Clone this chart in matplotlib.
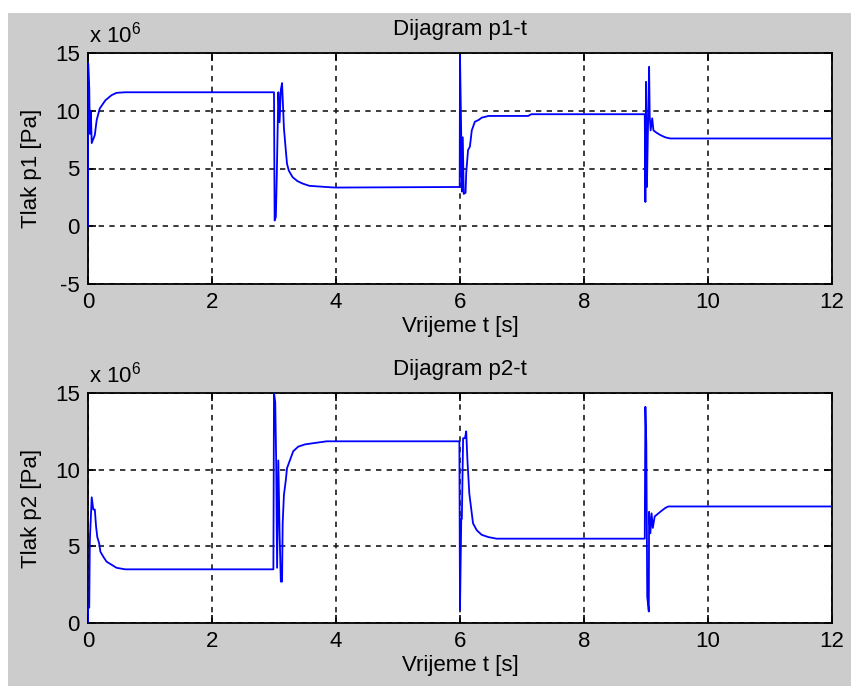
import matplotlib
matplotlib.use("Agg")
import matplotlib.pyplot as plt
from matplotlib.patches import Rectangle

plt.rcParams['font.family'] = ['Liberation Sans', 'DejaVu Sans']

# ---- data (time in s, pressure in 1e6 Pa) ----
t1 = [0.0, 0.003, 0.02, 0.03, 0.045, 0.06, 0.11, 0.14, 0.19, 0.28, 0.38, 0.46, 0.6, 3.0,
      3.01, 3.03, 3.045, 3.07, 3.09, 3.11, 3.13, 3.16, 3.19, 3.21, 3.24, 3.3, 3.38, 3.46, 3.57, 3.92, 4.0, 5.995,
      6.0, 6.02, 6.03, 6.045, 6.06, 6.09, 6.1, 6.13, 6.16, 6.19, 6.21, 6.24, 6.3, 6.35, 6.46, 7.1, 7.15, 8.98,
      8.99, 9.0, 9.015, 9.03, 9.05, 9.06, 9.075, 9.1, 9.12, 9.17, 9.23, 9.31, 9.39, 12.0]
p1 = [0.0, 14.1, 12.0, 8.0, 10.0, 7.2, 7.9, 9.2, 10.2, 10.9, 11.35, 11.55, 11.6, 11.6,
      0.5, 0.8, 4.4, 11.6, 9.0, 11.8, 12.4, 8.5, 6.6, 5.4, 4.8, 4.25, 3.9, 3.7, 3.5, 3.37, 3.35, 3.4,
      14.8, 7.75, 3.0, 7.7, 2.8, 2.9, 4.6, 6.6, 6.9, 8.3, 8.6, 9.05, 9.2, 9.4, 9.55, 9.55, 9.7, 9.7,
      2.1, 12.5, 3.4, 8.0, 13.8, 9.5, 8.3, 9.35, 8.3, 8.1, 7.9, 7.7, 7.6, 7.6]

t2 = [0.0, 0.001, 0.02, 0.03, 0.06, 0.085, 0.11, 0.13, 0.15, 0.18, 0.2, 0.25, 0.3, 0.38, 0.46, 0.6, 2.99,
      3.0, 3.02, 3.035, 3.05, 3.07, 3.09, 3.11, 3.13, 3.14, 3.16, 3.19, 3.21, 3.26, 3.31, 3.39, 3.5, 3.85, 5.99,
      6.0, 6.02, 6.03, 6.05, 6.08, 6.1, 6.12, 6.15, 6.19, 6.21, 6.27, 6.35, 6.46, 6.59, 8.98,
      8.99, 9.005, 9.02, 9.045, 9.05, 9.07, 9.09, 9.11, 9.14, 9.23, 9.31, 9.36, 12.0]
p2 = [0.0, 1.0, 1.0, 5.4, 8.2, 7.4, 7.4, 6.3, 5.6, 5.2, 4.65, 4.3, 4.0, 3.8, 3.6, 3.5, 3.5,
      15.0, 14.4, 10.6, 3.6, 10.6, 5.9, 2.7, 2.7, 6.5, 8.35, 9.3, 10.1, 10.65, 11.2, 11.5, 11.65, 11.85, 11.85,
      0.85, 6.8, 6.8, 12.05, 12.05, 12.5, 10.6, 8.45, 7.15, 6.5, 6.05, 5.75, 5.6, 5.5, 5.5,
      14.1, 11.7, 1.7, 0.75, 7.25, 5.85, 7.15, 6.2, 6.95, 7.25, 7.5, 7.6, 7.6]

xticks = [0, 2, 4, 6, 8, 10, 12]
yticks1 = [-5, 0, 5, 10, 15]
yticks2 = [0, 5, 10, 15]
titles = ["Dijagram p1-t", "Dijagram p2-t"]
ylabels = ["Tlak p1 [Pa]", "Tlak p2 [Pa]"]
xlabel = "Vrijeme t [s]"

W, H = 851, 686
fig = plt.figure(figsize=(W / 100, H / 100), dpi=100, facecolor='white')
fig.patches.append(Rectangle((8 / W, 0), 1 - 8 / W, 1 - 13 / H, transform=fig.transFigure,
                             facecolor='#cccccc', edgecolor='none', zorder=-10))

def px_axes(l, t, r, b):
    return [l / W, 1 - b / H, (r - l) / W, (b - t) / H]

ax1 = fig.add_axes(px_axes(88, 53, 832, 284))
ax2 = fig.add_axes(px_axes(88, 393, 832, 623))

FS = 16
for ax, t, p, yt, ttl, yl in [(ax1, t1, p1, yticks1, titles[0], ylabels[0]),
                               (ax2, t2, p2, yticks2, titles[1], ylabels[1])]:
    ax.set_facecolor('white')
    ax.plot(t, p, color='#0000ff', lw=1.3, zorder=3)
    ax.set_xlim(0, 12)
    ax.set_ylim(yt[0], yt[-1])
    ax.set_xticks(xticks)
    ax.set_yticks(yt)
    ax.set_xticklabels([str(v) for v in xticks])
    ax.set_yticklabels([str(v) for v in yt])
    ax.tick_params(direction='in', length=6, width=1.2, top=True, right=True,
                   labelsize=FS, pad=6, colors='black')
    ax.tick_params(axis='y', pad=6)
    ax.grid(True, color='#1a1a1a', linestyle=(0, (3.2, 3.2)), linewidth=1.2)
    for s in ax.spines.values():
        s.set_linewidth(1.3)
        s.set_color('black')
    ax.set_title(ttl, fontsize=FS, pad=13)
    ax.set_xlabel(xlabel, fontsize=FS, labelpad=2)
    ax.set_ylabel(yl, fontsize=FS)
    ax.yaxis.set_label_coords(-0.062, 0.5)
    ax.annotate(r'x 10$^{\mathregular{6}}$', xy=(0, 1), xycoords='axes fraction',
                xytext=(1, 11), textcoords='offset pixels', fontsize=FS,
                ha='left', va='baseline')

fig.savefig('out.png', dpi=100, facecolor=fig.get_facecolor())
